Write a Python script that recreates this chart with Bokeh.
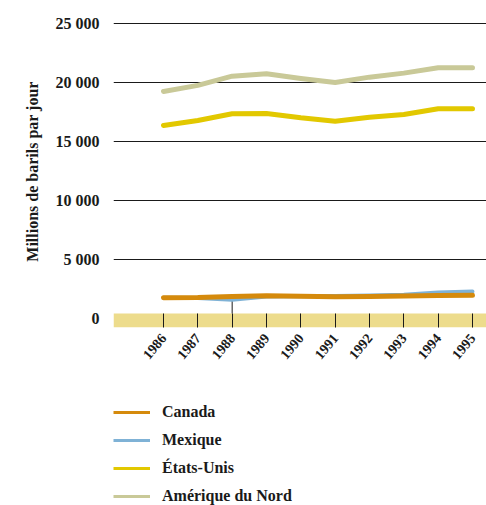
from bokeh.plotting import figure
from bokeh.layouts import column
from bokeh.models import (ColumnDataSource, FixedTicker, BoxAnnotation, Legend,
                          LegendItem, Range1d)
from bokeh.embed import file_html
from bokeh.resources import INLINE

# Production de pétrole, milliers de barils par jour
years = [1986, 1987, 1988, 1989, 1990, 1991, 1992, 1993, 1994, 1995]
canada = [1800, 1810, 1900, 1960, 1920, 1890, 1900, 1940, 1980, 2010]
mexique = [1800, 1780, 1630, 1900, 1930, 1950, 1990, 2060, 2240, 2330]
etats_unis = [16390, 16810, 17380, 17400, 17040, 16750, 17090, 17320, 17800, 17800]
amerique_nord = [19270, 19780, 20560, 20770, 20370, 20030, 20480, 20820, 21280, 21280]

series_names = ["Canada", "Mexique", "États-Unis", "Amérique du Nord"]
series_colors = ["#D58A0C", "#7FB2D6", "#E2C800", "#C9C998"]

y_ticks = [0, 5000, 10000, 15000, 20000, 25000]
y_tick_labels = {t: f"{t:,}".replace(",", " ") for t in y_ticks}

FONT = "Liberation Serif"
INK = "#1a1a1a"
BAND = "#EDDC8C"

p = figure(width=486, height=390, output_backend="svg", toolbar_location=None,
           x_range=Range1d(1984.544, 1995.408), y_range=Range1d(-720, 25700),
           min_border_left=113, min_border_right=0, min_border_top=15,
           min_border_bottom=63)
p.outline_line_color = None
p.background_fill_color = "white"
p.border_fill_color = "white"

# zero band
p.add_layout(BoxAnnotation(bottom=-720, top=466, fill_color=BAND, fill_alpha=1,
                           line_color=None, level="underlay"))

# horizontal grid (no line at zero)
p.xgrid.visible = False
p.ygrid.ticker = FixedTicker(ticks=y_ticks[1:])
p.ygrid.grid_line_color = INK
p.ygrid.grid_line_width = 1

# y axis
p.yaxis.ticker = FixedTicker(ticks=y_ticks)
p.yaxis.major_label_overrides = y_tick_labels
p.yaxis.axis_line_color = None
p.yaxis.major_tick_line_color = None
p.yaxis.minor_tick_line_color = None
p.yaxis.major_label_standoff = 8
p.yaxis.major_label_text_font = FONT
p.yaxis.major_label_text_font_style = "bold"
p.yaxis.major_label_text_font_size = "16px"
p.yaxis.major_label_text_color = INK
p.yaxis.axis_label = "Millions de barils par jour"
p.yaxis.axis_label_text_font = FONT
p.yaxis.axis_label_text_font_style = "bold"
p.yaxis.axis_label_text_font_size = "16px"
p.yaxis.axis_label_text_color = INK
p.yaxis.axis_label_standoff = 12

# x axis: ticks drawn inside the band
p.xaxis.ticker = FixedTicker(ticks=years)
p.xaxis.axis_line_color = None
p.xaxis.major_tick_in = 14
p.xaxis.major_tick_out = 0
p.xaxis.major_tick_line_color = INK
p.xaxis.minor_tick_line_color = None
p.xaxis.major_label_orientation = 0.87
p.xaxis.major_label_standoff = 8
p.xaxis.major_label_text_font = FONT
p.xaxis.major_label_text_font_style = "bold"
p.xaxis.major_label_text_font_size = "14px"
p.xaxis.major_label_text_color = INK

src = ColumnDataSource(dict(x=years, ca=canada, mx=mexique, us=etats_unis, na=amerique_nord))

# marker line from the band up to Mexique in 1988
i88 = years.index(1988)
p.segment(x0=[years[i88]], y0=[466], x1=[years[i88]], y1=[mexique[i88]],
          line_color=INK, line_width=1)

common = dict(line_cap="round", line_join="round")
p.line("x", "na", source=src, line_color=series_colors[3], line_width=5, **common)
p.line("x", "us", source=src, line_color=series_colors[2], line_width=5, **common)
p.line("x", "mx", source=src, line_color=series_colors[1], line_width=4, **common)
p.line("x", "ca", source=src, line_color=series_colors[0], line_width=5, **common)

# legend panel underneath the chart
lg = figure(width=486, height=115, output_backend="svg", toolbar_location=None,
            x_range=Range1d(0, 1), y_range=Range1d(0, 1),
            x_axis_type=None, y_axis_type=None,
            min_border_left=113, min_border_right=0, min_border_top=0,
            min_border_bottom=0)
lg.outline_line_color = None
lg.xgrid.visible = False
lg.ygrid.visible = False

# off-screen stand-in lines so each legend entry carries its swatch style
items = []
for name, color in zip(series_names, series_colors):
    r = lg.line(x=[5, 6], y=[5, 6], line_color=color, line_width=3)
    items.append(LegendItem(label=name, renderers=[r]))

legend = Legend(items=items, location=(0, -1), orientation="vertical")
legend.padding = 0
legend.margin = 0
legend.spacing = 8
legend.glyph_width = 37
legend.glyph_height = 20
legend.label_height = 20
legend.label_standoff = 12
legend.label_text_font = FONT
legend.label_text_font_style = "bold"
legend.label_text_font_size = "16px"
legend.label_text_color = INK
legend.background_fill_alpha = 0
legend.border_line_color = None
lg.add_layout(legend, "center")

layout = column(p, lg, spacing=0)
open("out.html", "w").write(file_html(layout, INLINE))
